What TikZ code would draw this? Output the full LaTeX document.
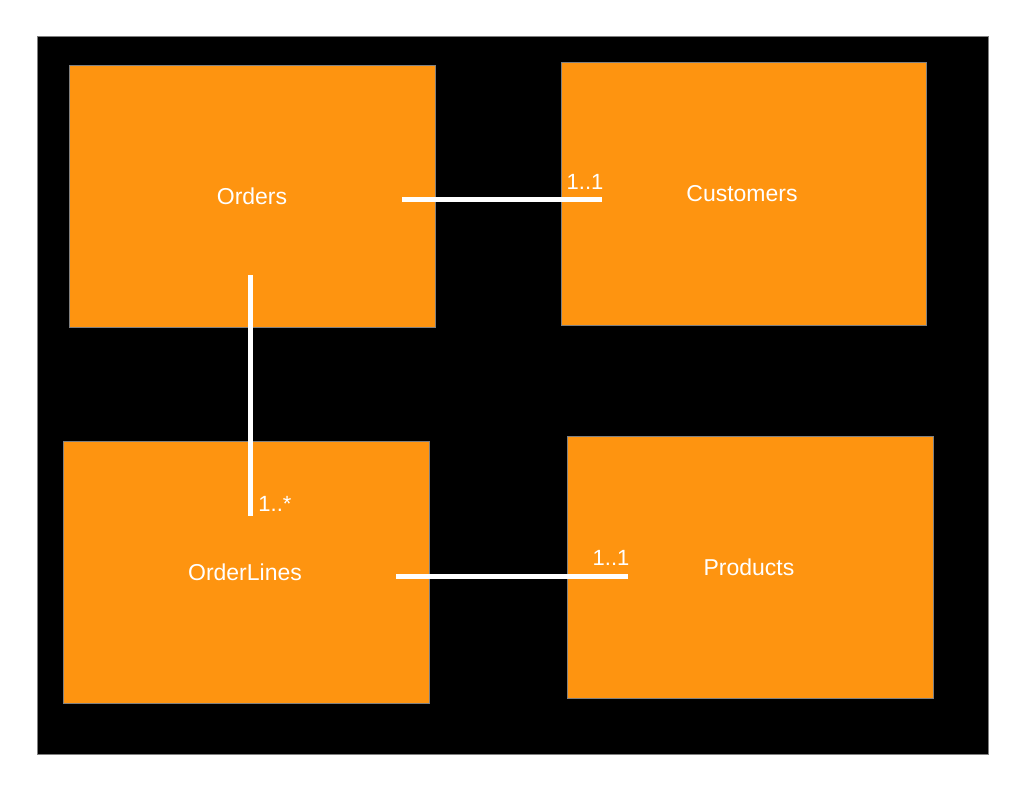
\documentclass[tikz,border=0pt]{standalone}
\usepackage{fontspec}
\setmainfont{Liberation Sans}
\definecolor{boxorange}{HTML}{FE9410}
\definecolor{edgegray}{HTML}{808080}
\begin{document}
\begin{tikzpicture}[x=1pt,y=-1pt,
  entity/.style={draw=edgegray,line width=1pt,fill=boxorange},
  entitylabel/.style={text=white,font=\fontsize{23}{27}\selectfont},
  link/.style={draw=white,line width=5pt},
  mult/.style={text=white,font=\fontsize{22}{25}\selectfont,inner sep=0pt}]
\useasboundingbox (0,0) rectangle (1024,791);
\fill[white] (0,0) rectangle (1024,791);
\draw[edgegray,fill=black,line width=1pt] (37,37) rectangle (988,754);
\draw[entity] (69,66) rectangle (435,327);
\draw[entity] (561,63) rectangle (926,325);
\draw[entity] (63,441) rectangle (429,703);
\draw[entity] (567,436) rectangle (933,698);
\node[entitylabel] (orders) at (252,196) {Orders};
\node[entitylabel] (customers) at (742,194) {Customers};
\node[entitylabel] (orderlines) at (245,572) {OrderLines};
\node[entitylabel] (products) at (749,567) {Products};
\coordinate (oc1) at (402,200);
\coordinate (oc2) at (602,200);
\coordinate (ol1) at (250,275);
\coordinate (ol2) at (250,516);
\coordinate (lp1) at (396,576);
\coordinate (lp2) at (628,576);
\draw[link] (oc1) -- (oc2);
\draw[link] (ol1) -- (ol2);
\draw[link] (lp1) -- (lp2);
\node[mult] (m1) at (585,182) {1..1};
\node[mult] (m2) at (275,504) {1..*};
\node[mult] (m3) at (611,558) {1..1};
\end{tikzpicture}
\end{document}
